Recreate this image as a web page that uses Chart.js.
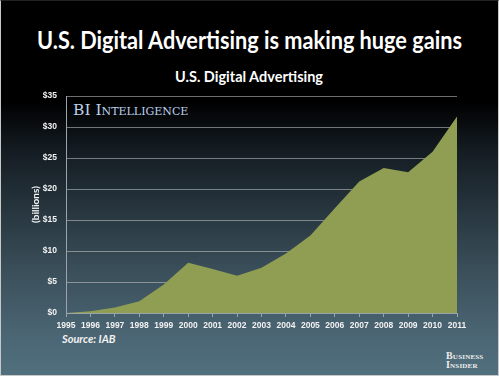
<!DOCTYPE html>
<html>
<head>
<meta charset="utf-8">
<script src="https://cdn.jsdelivr.net/npm/chart.js@4"></script>
<style>
  html, body { margin: 0; padding: 0; }
  body {
    width: 499px; height: 376px; overflow: hidden; position: relative;
    background: linear-gradient(to bottom, #000 0%, #000 27%, #141c22 40%, #26343d 55%, #3a4f5a 72%, #4a6472 88%, #51707e 100%);
    font-family: Lato, "Open Sans", sans-serif;
  }
  #frame { position: absolute; left: 0; top: 0; width: 497px; height: 374px; border: 1px solid #c8c8c8; border-top-color: #222; }
  .txt { position: absolute; white-space: nowrap; color: #fff; }
  #title { top: 24px; font-weight: bold; font-size: 25px; transform-origin: 0 0; }
  #subtitle { top: 67px; font-weight: bold; font-size: 15px; transform-origin: 0 0; }
  #brand { left: 73px; top: 101px; font-family: "DejaVu Serif", "Liberation Serif", serif; font-variant: small-caps; font-size: 15.5px; color: #bcd0ec; }
  #source { left: 62px; top: 332px; font-size: 11px; font-weight: bold; font-style: italic; color: #f2f2f2; }
  #bi { left: 446px; top: 351px; font-family: "Liberation Serif", serif; font-variant: small-caps; font-size: 10px; line-height: 9px; color: #eee; font-weight: bold; letter-spacing: 0.2px; }
  canvas { position: absolute; left: 0; top: 0; }
</style>
</head>
<body>
<div id="frame"></div>
<div class="txt" id="title">U.S. Digital Advertising is making huge gains</div>
<div class="txt" id="subtitle">U.S. Digital Advertising</div>
<div class="txt" id="brand">BI Intelligence</div>
<div class="txt" id="source">Source: IAB</div>
<div class="txt" id="bi">Business<br>Insider</div>
<canvas id="chart" width="499" height="376"></canvas>
<script>
// revenue by year, $ billions
const years = ['1995', '1996', '1997', '1998', '1999', '2000', '2001', '2002', '2003',
  '2004', '2005', '2006', '2007', '2008', '2009', '2010', '2011'];
const revenue = [0, 0.3, 0.9, 1.9, 4.6, 8.1, 7.1, 6.0, 7.3,
  9.6, 12.5, 16.9, 21.2, 23.4, 22.7, 26.0, 31.7];
const yTicks = [0, 5, 10, 15, 20, 25, 30, 35];

// squeeze titles to the width they take in the reference
function fitText(id, width, centerX) {
  const el = document.getElementById(id);
  const w = el.getBoundingClientRect().width;
  const s = width / w;
  el.style.transform = 'scaleX(' + s + ')';
  el.style.left = (centerX - width / 2) + 'px';
}
fitText('title', 425, 249);
fitText('subtitle', 148, 249);

const tickFont = { family: '"Liberation Sans", Arial, sans-serif', size: 8.5, weight: 'bold' };

new Chart(document.getElementById('chart'), {
  type: 'line',
  data: {
    labels: years,
    datasets: [{
      data: revenue,
      fill: 'origin',
      backgroundColor: '#8f9e52',
      borderWidth: 0,
      pointRadius: 0,
      tension: 0,
    }],
  },
  options: {
    responsive: false,
    animation: false,
    events: [],
    layout: { padding: { top: 96, right: 42, bottom: 0, left: 0 } },
    plugins: { legend: { display: false }, tooltip: { enabled: false } },
    scales: {
      x: {
        offset: false,
        afterFit: (s) => { s.height = 63; },
        grid: { drawOnChartArea: false, color: '#9aa4aa', tickLength: 4 },
        border: { color: '#9aa4aa' },
        ticks: { color: '#f2f2f2', font: tickFont, padding: 4, maxRotation: 0, autoSkip: false },
      },
      y: {
        min: 0,
        max: 35,
        afterFit: (s) => { s.width = 66; },
        afterBuildTicks: (s) => { s.ticks = yTicks.map((v) => ({ value: v })); },
        grid: { color: 'rgba(200,200,200,0.55)', drawTicks: false },
        border: { color: '#9aa4aa' },
        ticks: {
          color: '#f2f2f2', font: tickFont, padding: 9,
          callback: (v) => '$' + v,
        },
        title: {
          display: true,
          text: '(billions)',
          color: '#f2f2f2',
          font: { family: 'Lato, sans-serif', size: 10, weight: 'bold' },
          padding: { top: 30, bottom: 0 },
        },
      },
    },
  },
});
</script>
</body>
</html>
